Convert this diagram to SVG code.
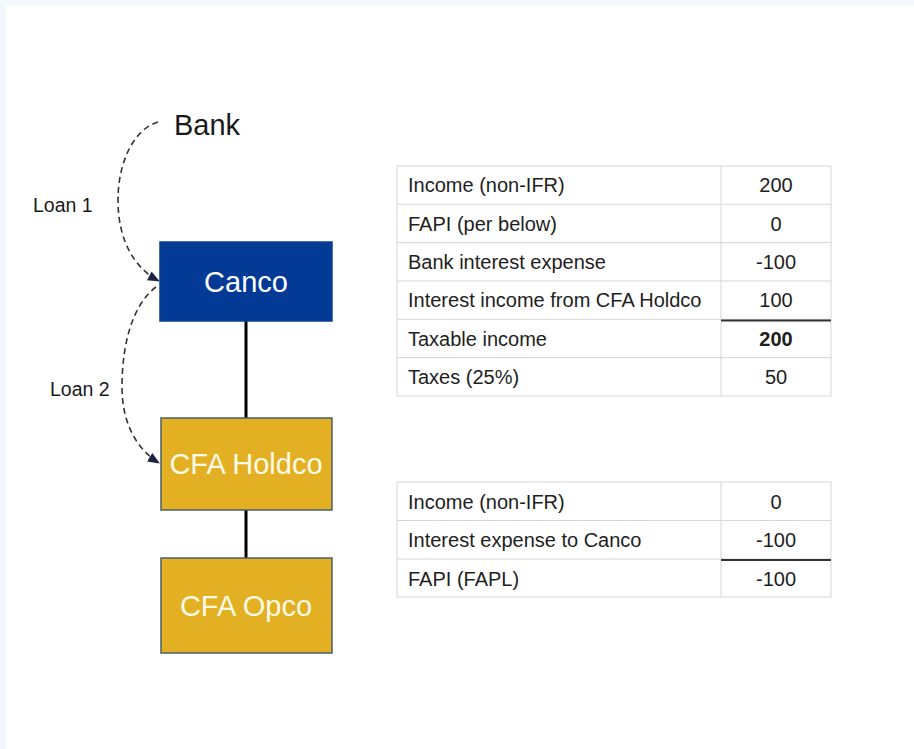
<svg xmlns="http://www.w3.org/2000/svg" width="914" height="749" viewBox="0 0 914 749">
  <style>
    .lbl { font-family: "Liberation Sans", Arial, sans-serif; fill: #1a1a1a; }
    .box-text { font-family: "Liberation Sans", Arial, sans-serif; font-size: 29px; text-anchor: middle; }
    .cell { font-family: "Liberation Sans", Arial, sans-serif; font-size: 20px; fill: #1e1e1e; }
    .num { text-anchor: middle; }
    .grid { stroke: #d6d6d6; stroke-width: 1; fill: none; }
    .rule { stroke: #333333; stroke-width: 2; }
    .loan { fill: none; stroke: #333333; stroke-width: 1.6; stroke-dasharray: 6 4; }
    .own { stroke: #000000; stroke-width: 3; }
  </style>
  <defs>
    <marker id="arrow" viewBox="0 0 12 10" refX="11" refY="5" markerWidth="12" markerHeight="10" orient="auto" markerUnits="userSpaceOnUse">
      <path d="M0,0 L12,5 L0,10 Z" fill="#1c2540"/>
    </marker>
  </defs>

  <!-- page background -->
  <rect x="0" y="0" width="914" height="749" fill="#f4f7fe"/>
  <rect x="6" y="5" width="908" height="744" fill="#ffffff"/>

  <!-- connectors -->
  <g id="connectors">
    <line class="own" x1="246" y1="321" x2="246" y2="418"/>
    <line class="own" x1="246" y1="510" x2="246" y2="558"/>
    <path class="loan" d="M158,122 C132,130 118,165 118,200 C118,240 134,268 159,281" marker-end="url(#arrow)"/>
    <path class="loan" d="M156,287 C132,305 122,345 122,387 C122,425 138,450 159,463" marker-end="url(#arrow)"/>
  </g>

  <!-- labels -->
  <g id="bank">
    <text class="lbl" x="174" y="135" font-size="29">Bank</text>
  </g>
  <text class="lbl" x="33" y="212" font-size="19.5">Loan 1</text>
  <text class="lbl" x="50" y="396" font-size="19.5">Loan 2</text>

  <!-- entities -->
  <g id="canco">
    <rect x="160" y="242" width="172" height="79" fill="#033a96" stroke="#0b3f8f" stroke-width="1.5"/>
    <text class="box-text" x="246" y="292" fill="#ffffff">Canco</text>
  </g>
  <g id="cfa-holdco">
    <rect x="161" y="418" width="171" height="92" fill="#e2b022" stroke="#4b5e69" stroke-width="1.5"/>
    <text class="box-text" x="246" y="474" fill="#fffbe6">CFA Holdco</text>
  </g>
  <g id="cfa-opco">
    <rect x="161" y="558" width="171" height="95" fill="#e2b022" stroke="#4b5e69" stroke-width="1.5"/>
    <text class="box-text" x="246" y="616" fill="#fffbe6">CFA Opco</text>
  </g>

  <!-- Canco tax computation -->
  <g id="canco-table">
    <rect class="grid" x="397" y="166" width="434" height="230"/>
    <line class="grid" x1="721" y1="166" x2="721" y2="396"/>
    <line class="grid" x1="397" y1="204.3" x2="831" y2="204.3"/>
    <line class="grid" x1="397" y1="242.6" x2="831" y2="242.6"/>
    <line class="grid" x1="397" y1="281" x2="831" y2="281"/>
    <line class="grid" x1="397" y1="319.3" x2="831" y2="319.3"/>
    <line class="grid" x1="397" y1="357.6" x2="831" y2="357.6"/>
    <line class="rule" x1="721" y1="320.5" x2="831" y2="320.5"/>
    <text class="cell" x="408" y="192">Income (non-IFR)</text>
    <text class="cell num" x="776" y="192">200</text>
    <text class="cell" x="408" y="230.5">FAPI (per below)</text>
    <text class="cell num" x="776" y="230.5">0</text>
    <text class="cell" x="408" y="269">Bank interest expense</text>
    <text class="cell num" x="776" y="269">-100</text>
    <text class="cell" x="408" y="307">Interest income from CFA Holdco</text>
    <text class="cell num" x="776" y="307">100</text>
    <text class="cell" x="408" y="345.5">Taxable income</text>
    <text class="cell num" x="776" y="345.5" font-weight="bold">200</text>
    <text class="cell" x="408" y="384">Taxes (25%)</text>
    <text class="cell num" x="776" y="384">50</text>
  </g>

  <!-- CFA Holdco FAPI computation -->
  <g id="holdco-table">
    <rect class="grid" x="397" y="482" width="434" height="115"/>
    <line class="grid" x1="721" y1="482" x2="721" y2="597"/>
    <line class="grid" x1="397" y1="520.5" x2="831" y2="520.5"/>
    <line class="grid" x1="397" y1="559" x2="831" y2="559"/>
    <line class="rule" x1="721" y1="560" x2="831" y2="560"/>
    <text class="cell" x="408" y="508.5">Income (non-IFR)</text>
    <text class="cell num" x="776" y="508.5">0</text>
    <text class="cell" x="408" y="547">Interest expense to Canco</text>
    <text class="cell num" x="776" y="547">-100</text>
    <text class="cell" x="408" y="585.5">FAPI (FAPL)</text>
    <text class="cell num" x="776" y="585.5">-100</text>
  </g>
</svg>
